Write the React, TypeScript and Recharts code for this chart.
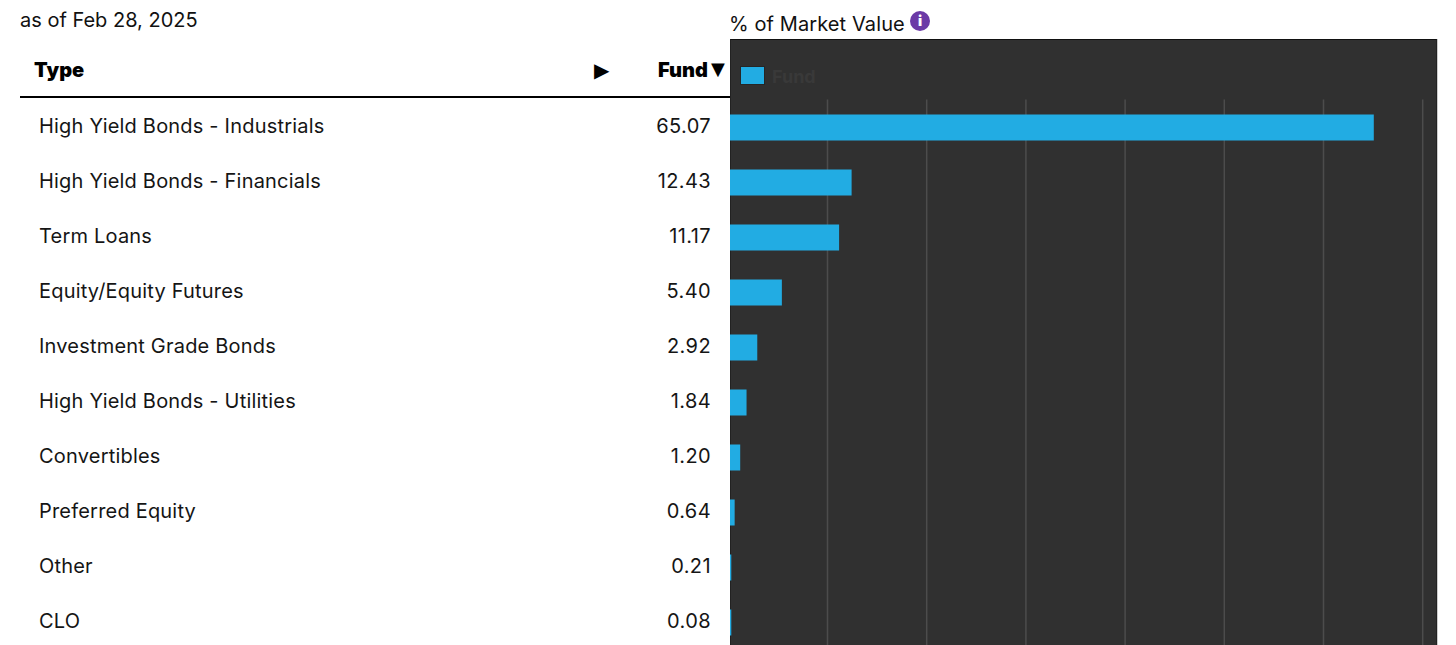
import React from "react";
import { BarChart, Bar, XAxis, YAxis, CartesianGrid, Legend, Rectangle } from "recharts";

const categories = [
  "High Yield Bonds - Industrials",
  "High Yield Bonds - Financials",
  "Term Loans",
  "Equity/Equity Futures",
  "Investment Grade Bonds",
  "High Yield Bonds - Utilities",
  "Convertibles",
  "Preferred Equity",
  "Other",
  "CLO",
];
const fundValues = [65.07, 12.43, 11.17, 5.4, 2.92, 1.84, 1.2, 0.64, 0.21, 0.08];
const fundLabels = ["65.07", "12.43", "11.17", "5.40", "2.92", "1.84", "1.20", "0.64", "0.21", "0.08"];
const xTicks = [10, 20, 30, 40, 50, 60, 70];

const rows = categories.map((type, i) => ({ type, fund: fundValues[i] }));

const FONT = "Inter, 'Noto Sans', sans-serif";
const BLUE = "#22ace3";

const abs = (s: React.CSSProperties): React.CSSProperties => ({
  position: "absolute",
  whiteSpace: "nowrap",
  fontFamily: FONT,
  color: "#111",
  ...s,
});

function RowTick(props: any) {
  const { y, index, payload } = props;
  const i = index ?? categories.indexOf(payload.value);
  return (
    <g fontFamily={FONT} fontSize={20} fill="#151515">
      <text x={39} y={y - 1} dominantBaseline="central" letterSpacing={0.2}>{payload.value}</text>
      <text x={711} y={y - 1} dominantBaseline="central" textAnchor="end" letterSpacing={0.4}>{fundLabels[i]}</text>
    </g>
  );
}

function ClippedBar(props: any) {
  return <g clipPath="url(#panelClip)"><Rectangle {...props} /></g>;
}

function LegendBox(props: any) {
  const item = props.payload?.[0];
  return (
    <div style={{ display: "flex", alignItems: "center", height: 20 }}>
      <span style={{ display: "inline-block", width: 25, height: 19, background: BLUE, border: "1px solid #262626", boxSizing: "border-box" }} />
      <span style={{ marginLeft: 7, marginTop: 3, fontFamily: FONT, fontSize: 18, fontWeight: 700, color: "#393939" }}>{item?.value}</span>
    </div>
  );
}

export default function App() {
  return (
    <div style={{ position: "absolute", left: 0, top: 0, width: 1456, height: 645, overflow: "hidden", background: "#fff" }}>
      <div style={abs({ left: 20, top: 8, fontSize: 20 })}>as of Feb 28, 2025</div>
      <div style={abs({ left: 729, top: 12, fontSize: 20, letterSpacing: 0.1 })}>% of Market Value</div>
      <div style={abs({ left: 910, top: 11, width: 20, height: 20, borderRadius: 10, background: "#6b3aa6", color: "#fff", fontSize: 14, fontWeight: 900, textAlign: "center", lineHeight: "20px" })}>i</div>
      <div style={abs({ left: 34, top: 58, fontSize: 20, fontWeight: 900, color: "#000" })}>Type</div>
      <div style={abs({ left: 594, top: 58, fontSize: 20, color: "#000", fontFamily: "'DejaVu Sans'" })}>▶</div>
      <div style={abs({ left: 658, top: 58, fontSize: 20, fontWeight: 900, color: "#000" })}>Fund</div>
      <div style={abs({ left: 711, top: 58, fontSize: 18, color: "#000", fontFamily: "'DejaVu Sans'" })}>▼</div>
      <div style={{ position: "absolute", left: 730, top: 39, width: 707, height: 606, boxSizing: "border-box", background: "#303030", borderTop: "1px solid #111", borderLeft: "1px solid #222", borderRight: "1px solid #222" }} />
      <div style={{ position: "absolute", left: 1437, top: 39, width: 1, height: 606, background: "#ccc" }} />
      <div style={{ position: "absolute", left: 0, top: 0 }}>
        <BarChart
          width={1456}
          height={660}
          data={rows}
          layout="vertical"
          margin={{ top: 79.5, right: 33.3, bottom: 10.5, left: 0 }}
        >
          <defs>
            <clipPath id="panelClip">
              <rect x={730} y={0} width={707} height={660} />
            </clipPath>
          </defs>
          <CartesianGrid horizontal={false} vertical stroke="#4c4c4c" strokeWidth={1.5} />
          <XAxis type="number" domain={[0, 70]} ticks={xTicks} hide />
          <YAxis
            type="category"
            dataKey="type"
            width={728.3}
            axisLine={false}
            tickLine={false}
            interval={0}
            tick={RowTick}
          />
          <Legend
            verticalAlign="top"
            align="left"
            content={LegendBox}
            wrapperStyle={{ position: "absolute", left: 740, top: 65, width: 120 }}
          />
          <Bar dataKey="fund" name="Fund" fill={BLUE} barSize={26} minPointSize={3} isAnimationActive={false} shape={ClippedBar} />
        </BarChart>
      </div>
      <div style={{ position: "absolute", left: 726, top: 97, width: 4, height: 548, background: "#fff" }} />
      <div style={{ position: "absolute", left: 20, top: 95.5, width: 710, height: 2, background: "#000" }} />
    </div>
  );
}
